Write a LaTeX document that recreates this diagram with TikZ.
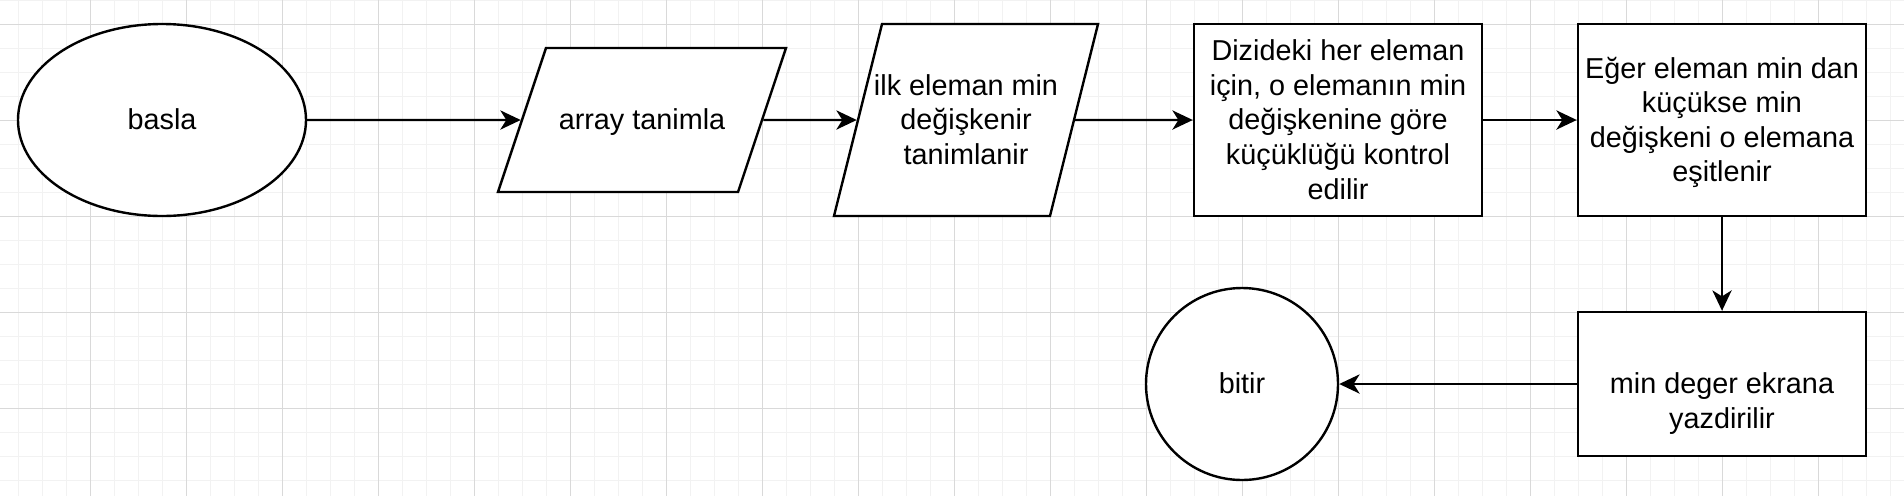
\documentclass[tikz,border=0pt]{standalone}
\usepackage{fontspec}
\setmainfont{Liberation Sans}
\usetikzlibrary{shapes.geometric, arrows.meta, positioning}
\tikzset{
	defaultnode/.style={
			draw=black,
			line width=1pt,
			fill=white,
			inner sep=0pt,
			align=center,
			font=\fontsize{12pt}{14.4pt}\selectfont,
			text height=11.36pt,
			text depth=3.04pt
		},
	startnode/.style={
			defaultnode,
			ellipse,
			minimum width=120pt,
			minimum height=80pt
		},
	ionode/.style={
			defaultnode,
			trapezium,
			trapezium stretches body=true
		},
	processnode/.style={
			defaultnode,
			rectangle,
			minimum width=120pt,
			minimum height=80pt
		},
	endnode/.style={
			defaultnode,
			circle,
			minimum size=80pt
		}
}
\tikzset{
	flowarrow/.style={-{Stealth[length=8.5pt, width=8pt, inset=2.5pt]}, line width=1pt},
	gridminor/.style={draw=black!5, line width=0.4pt},
	gridmajor/.style={draw=black!15, line width=0.4pt}
}
\begin{document}
\begin{tikzpicture}[x=1pt, y=-1pt]
	\useasboundingbox (0,0) rectangle (793.33,206.67);
	% background grid
	\foreach \x in {7.5,17.5,...,787.5} \draw[gridminor] (\x,0) -- (\x,206.67);
	\foreach \y in {0,10,...,200} \draw[gridminor] (0,\y) -- (793.33,\y);
	\foreach \x in {37.5,77.5,...,757.5} \draw[gridmajor] (\x,0) -- (\x,206.67);
	\foreach \y in {10,50,...,170} \draw[gridmajor] (0,\y) -- (793.33,\y);

	\node[startnode] (basla) at (67.5,50) {basla};
	\node[ionode, minimum width=120pt, inner ysep=22.8pt,
		trapezium left angle=71.57, trapezium right angle=108.43] (array) at (267.5,50) {array tanimla};
	\node[ionode, minimum width=110pt, inner ysep=18.4pt, inner xsep=-3.5pt, text height=40.16pt,
		trapezium left angle=75.96, trapezium right angle=104.04] (ilkmin) at (402.5,50) {ilk eleman min\\değişkenir\\tanimlanir};
	\node[processnode, text height=68.96pt] (kontrol) at (557.5,50) {Dizideki her eleman\\için, o elemanın min\\değişkenine göre\\küçüklüğü kontrol\\edilir};
	\node[processnode, text height=54.56pt] (esitle) at (717.5,50) {Eğer eleman min dan\\küçükse min\\değişkeni o elemana\\eşitlenir};
	\node[processnode, minimum height=60pt, text height=40.16pt] (yazdir) at (717.5,160) {\strut\\min deger ekrana\\yazdirilir};
	\node[endnode] (bitir) at (517.5,160) {bitir};

	\draw[flowarrow] (basla) -- (array);
	\draw[flowarrow] (array) -- (ilkmin);
	\draw[flowarrow] (ilkmin) -- (kontrol);
	\draw[flowarrow] (kontrol) -- (esitle);
	\draw[flowarrow] (esitle) -- (yazdir);
	\draw[flowarrow] (yazdir) -- (bitir);
\end{tikzpicture}
\end{document}
